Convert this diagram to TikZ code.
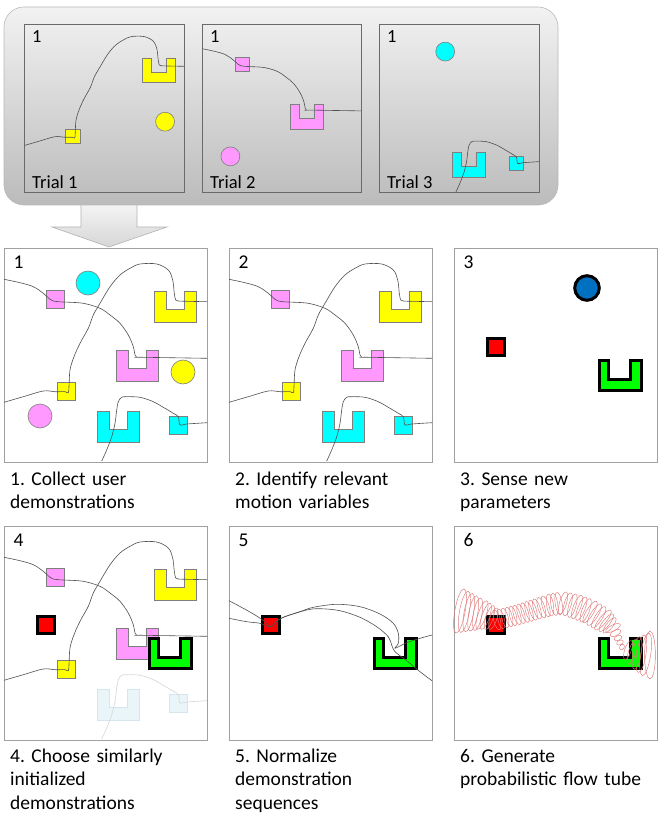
\documentclass[tikz,border=0pt]{standalone}
\usepackage{fontspec}
\setmainfont{Carlito}
\frenchspacing
\definecolor{cyel}{HTML}{FFFF00}
\definecolor{cpink}{HTML}{FF99FF}
\definecolor{ccyan}{HTML}{00FFFF}
\definecolor{cred}{HTML}{FF0000}
\definecolor{cgreen}{HTML}{00FF00}
\definecolor{cblue}{HTML}{0070C0}
\definecolor{edgegray}{HTML}{7F7F7F}
\definecolor{trajgray}{HTML}{505050}
\definecolor{panelgray}{HTML}{A0A0A0}
\definecolor{trialgray}{HTML}{6A6A6A}
\definecolor{tubered}{HTML}{E07878}
\definecolor{fadefill}{HTML}{EAF5FA}
\definecolor{fadeedge}{HTML}{D5E6EE}
\definecolor{fadetraj}{HTML}{D6D6D6}
\definecolor{toptop}{HTML}{F2F2F2}
\definecolor{topbot}{HTML}{BBBBBB}
\newcommand\capfont{\fontsize{19.5}{23.5}\selectfont}
\newcommand\trialfont{\fontsize{18.5}{22}\selectfont}
\tikzset{
  obj/.style={draw=edgegray, line width=0.6pt},
  yel/.style={obj, fill=cyel},
  pnk/.style={obj, fill=cpink},
  cyn/.style={obj, fill=ccyan},
  fade/.style={draw=fadeedge, line width=0.6pt, fill=fadefill},
  traj/.style={draw=trajgray, line width=0.6pt},
  fadetrajstyle/.style={draw=fadetraj, line width=0.6pt},
  boldobj/.style={draw=black, line width=3pt, line join=miter},
  panelbox/.style={draw=panelgray, line width=1pt, fill=white},
  trialbox/.style={draw=trialgray, line width=0.8pt},
  tube/.style={draw=tubered, line width=0.45pt},
  caption/.style={anchor=base west, inner sep=0pt, text width=215pt, align=left, font=\capfont},
  panelnum/.style={anchor=base west, inner sep=0pt, font=\capfont},
  trialnum/.style={anchor=base west, inner sep=0pt, font=\trialfont},
}
% panel-local drawing helpers (203 x 214 panel, y downwards)
\newcommand\Ushape[3]{\draw[#1] (#2,#3) -- ++(12,0) -- ++(0,18) -- ++(18,0) -- ++(0,-18) -- ++(12,0) -- ++(0,31) -- ++(-42,0) -- cycle;}
\newcommand\Sqr[3]{\draw[#1] (#2,#3) rectangle ++(18,18);}
\newcommand\trajPink[1]{\draw[#1] plot[smooth, tension=0.55] coordinates {(0,31.3) (16,34.7) (29.3,38.7) (39.3,45.3) (46,51.3) (49.3,53) (54.3,53.7) (59.3,54) (79.3,55.3) (96,60.3) (106,67) (116,75.3) (124.3,87) (129.3,98.7) (131,107) (132.7,109.3) (139.3,109.3) (203,110.3)};}
\newcommand\trajYel[1]{\draw[#1] plot[smooth, tension=0.55] coordinates {(0,154.3) (19.3,148.7) (39.3,143) (51,143.7) (61,143.7) (64.3,144.7) (65,138.7) (66,122) (70,108.7) (76,95.3) (84.3,80.3) (89.3,67) (96,55.3) (106,38.7) (116,27) (126,20.3) (136,16) (152.7,16) (164.3,22) (168.7,32) (170.3,45.3) (171.7,52) (174.3,53) (182.7,53.3) (203,53.7)};}
\newcommand\trajCyan[1]{\draw[#1] plot[smooth, tension=0.55] coordinates {(97.7,213) (102.7,202) (107.7,188.7) (111,175.3) (112.7,162) (114.3,153.7) (117.7,149.3) (122.7,148.7) (136,149.3) (149.3,153.7) (161,160.3) (169.3,165.3) (174.3,168.7) (176,177) (182.7,176) (203,174.7)};}
\newcommand\newRed{\draw[boldobj, fill=cred] (33.5,90.5) rectangle (50.5,107.5);}
\newcommand\newGreen{\draw[boldobj, fill=cgreen] (145.2,112.5) -- (154.5,112.5) -- (154.5,131.8) -- (176.8,131.8) -- (176.8,112.5) -- (187.2,112.5) -- (187.2,142.8) -- (145.2,142.8) -- cycle;}
\begin{document}
\begin{tikzpicture}[x=1pt,y=-1pt]
\useasboundingbox (0,0) rectangle (667,818);

% ---------- big arrow ----------
\shade[draw=gray!60, line width=0.6pt, top color=gray!6, bottom color=gray!32]
  (81,200) -- (137,200) -- (137,227) -- (167,227) -- (109,247) -- (52,227) -- (81,227) -- cycle;

% ---------- top panel ----------
\shade[draw=gray!55, line width=0.6pt, rounded corners=20pt, top color=toptop, bottom color=topbot]
  (4,7) rectangle (558,205);

% Trial 1
\begin{scope}[shift={(24,24)}, scale=0.788]
  \Ushape{yel}{150}{43}
  \Sqr{yel}{53}{134}
  \draw[yel] (179,124) circle (12);
  \trajYel{traj}
\end{scope}
\draw[trialbox] (24,24) rectangle (184,192);
\node[trialnum] (t1n) at (32,43) {1};
\node[trialnum] (t1l) at (32,189) {Trial 1};

% Trial 2
\begin{scope}[shift={(202,24)}, scale=0.788]
  \Ushape{pnk}{112}{102}
  \Sqr{pnk}{42}{42}
  \draw[pnk] (36,168) circle (12);
  \trajPink{traj}
\end{scope}
\draw[trialbox] (202,24) rectangle (361,192);
\node[trialnum] (t2n) at (210,43) {1};
\node[trialnum] (t2l) at (210,189) {Trial 2};

% Trial 3
\begin{scope}[shift={(379,24)}, scale=0.788]
  \Ushape{cyn}{93}{163}
  \Sqr{cyn}{165}{168}
  \draw[cyn] (84,35) circle (12);
  \trajCyan{traj}
\end{scope}
\draw[trialbox] (379,24) rectangle (539,192);
\node[trialnum] (t3n) at (387,43) {1};
\node[trialnum] (t3l) at (387,189) {Trial 3};

% ---------- panel 1 ----------
\draw[panelbox] (4,248) rectangle ++(203,214);
\begin{scope}[shift={(4,248)}]
  \draw[cyn] (84,35) circle (12);
  \draw[yel] (179,124) circle (12);
  \draw[pnk] (36,168) circle (12);
  \Ushape{yel}{150}{43}
  \Ushape{pnk}{112}{102}
  \Ushape{cyn}{93}{163}
  \Sqr{pnk}{42}{42}
  \Sqr{yel}{53}{134}
  \Sqr{cyn}{165}{168}
  \trajPink{traj}
  \trajYel{traj}
  \trajCyan{traj}
  \node[panelnum] (n1) at (9.5,20) {1};
\end{scope}
\node[caption] (c1) at (10,485) {1. Collect user\\demonstrations};

% ---------- panel 2 ----------
\draw[panelbox] (229,248) rectangle ++(203,214);
\begin{scope}[shift={(229,248)}]
  \Ushape{yel}{150}{43}
  \Ushape{pnk}{112}{102}
  \Ushape{cyn}{93}{163}
  \Sqr{pnk}{42}{42}
  \Sqr{yel}{53}{134}
  \Sqr{cyn}{165}{168}
  \trajPink{traj}
  \trajYel{traj}
  \trajCyan{traj}
  \node[panelnum] (n2) at (9.5,20) {2};
\end{scope}
\node[caption] (c2) at (235,485) {2. Identify relevant\\motion variables};

% ---------- panel 3 ----------
\draw[panelbox] (454,248) rectangle ++(203,214);
\begin{scope}[shift={(454,248)}]
  \newRed
  \newGreen
  \draw[boldobj, fill=cblue] (133,40) circle (12.3);
  \node[panelnum] (n3) at (9.5,20) {3};
\end{scope}
\node[caption] (c3) at (460,485) {3. Sense new\\parameters};

% ---------- panel 4 ----------
\draw[panelbox] (4,526) rectangle ++(203,214);
\begin{scope}[shift={(4,526)}]
  \Ushape{fade}{93}{163}
  \Sqr{fade}{165}{168}
  \trajCyan{fadetrajstyle}
  \Ushape{yel}{150}{43}
  \Ushape{pnk}{112}{102}
  \Sqr{pnk}{42}{42}
  \Sqr{yel}{53}{134}
  \trajPink{traj}
  \trajYel{traj}
  \newRed
  \newGreen
  \node[panelnum] (n4) at (9.5,20) {4};
\end{scope}
\node[caption] (c4) at (10,762) {4. Choose similarly\\initialized\\demonstrations};

% ---------- panel 5 ----------
\draw[panelbox] (229,526) rectangle ++(203,214);
\begin{scope}[shift={(229,526)}]
  \newRed
  \newGreen
  \draw[traj] plot[smooth, tension=0.55] coordinates {(0,74.7) (14.3,82.3) (27.7,90) (36,95.7) (41.7,100.7) (46,96.7) (54.3,91.3) (71,85.7) (84.3,81.3) (107.7,78.3) (131,80.7) (151,88) (164.3,97.3) (169.3,107.3) (169.3,117.3) (166,122.3) (177.7,116.7) (191,112.3) (203,109)};
  \draw[traj] plot[smooth, tension=0.55] coordinates {(0,92.3) (17.7,95.7) (31,97.3) (41.7,100.7) (49.3,94) (57.7,90) (77.7,84) (91,82.7) (111,84.7) (131,91.3) (147.7,100.7) (159.3,110.7) (162.7,119) (166,125.7) (177.7,134.7) (191,145.7) (203,154.7)};
  \node[panelnum] (n5) at (9.5,20) {5};
\end{scope}
\node[caption] (c5) at (235,762) {5. Normalize\\demonstration\\sequences};

% ---------- panel 6 ----------
\draw[panelbox] (454,526) rectangle ++(203,214);
\begin{scope}[shift={(454,526)}]
  \newRed
  \newGreen
  \foreach \xa/\ya/\ha/\xb/\yb/\hb in {6/85/22.5/28/89/15, 28/89/15/43/94/10, 43/94/10/63/89/10, 63/89/10/83/83/10.5, 83/83/10.5/96/79/11, 96/79/11/109/77/11.5, 109/77/11.5/123/81/12.5, 123/81/12.5/136/86/12.5, 136/86/12.5/149/94/12.5, 149/94/12.5/159/102/8, 159/102/8/164/112/4, 164/112/4/168/121/3, 168/121/3/174/124/10, 174/124/10/183/127/16.5, 183/127/16.5/196/129/24}{
    \pgfmathsetmacro\eL{veclen(\xb-\xa,\yb-\ya)}
    \pgfmathtruncatemacro\eN{max(1,round(\eL/4.5))}
    \pgfmathsetmacro\eA{atan2(\ya-\yb,\xb-\xa)}
    \foreach \i in {1,...,\eN}{
      \pgfmathsetmacro\eT{(\i-1)/\eN}
      \pgfmathsetmacro\eX{\xa+(\xb-\xa)*\eT}
      \pgfmathsetmacro\eY{\ya+(\yb-\ya)*\eT}
      \pgfmathsetmacro\eH{\ha+(\hb-\ha)*\eT}
      \pgfmathsetmacro\eW{1.8+0.15*\eH}
      \draw[tube, shift={(\eX,\eY)}, rotate=\eA] (0,0) ellipse [x radius=\eW pt, y radius=\eH pt];
    }
  }
  \draw[tube] (196,129) ellipse [x radius=5.4pt, y radius=24pt];
  \node[panelnum] (n6) at (9.5,20) {6};
\end{scope}
\node[caption] (c6) at (460,762) {6. Generate\\probabilistic flow tube};
\end{tikzpicture}
\end{document}
